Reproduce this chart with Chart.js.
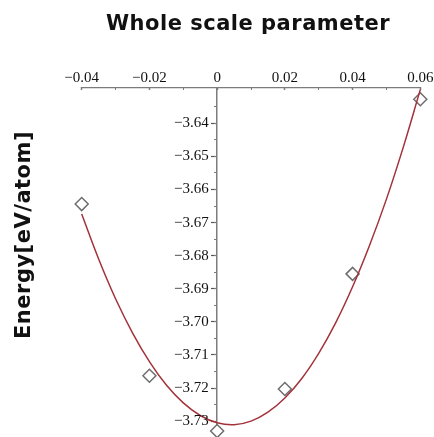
<!DOCTYPE html>
<html>
<head>
<meta charset="utf-8">
<script src="https://cdn.jsdelivr.net/npm/chart.js@4.4.1/dist/chart.umd.min.js"></script>
<style>
  html, body { margin: 0; padding: 0; background: #fff; }
  #wrap { width: 434px; height: 437px; }
</style>
</head>
<body>
<div id="wrap"><canvas id="energy" width="434" height="437"></canvas></div>
<script>
// calculated points: whole scale parameter vs energy per atom
const scaleSteps = [-0.04, -0.02, 0, 0.02, 0.04, 0.06];
const energies = [-3.6644, -3.7163, -3.7330, -3.7203, -3.6855, -3.6327];

// fitted curve through the points
const fitSteps = [-0.04, -0.035, -0.03, -0.025, -0.02, -0.015, -0.01, -0.005, 0, 0.005,
                  0.01, 0.015, 0.02, 0.025, 0.03, 0.035, 0.04, 0.045, 0.05, 0.055, 0.06];
const fitEnergies = [-3.6674, -3.6810, -3.6930, -3.7033, -3.7120, -3.7191, -3.7245, -3.7283, -3.7305, -3.7311,
                     -3.7300, -3.7273, -3.7230, -3.7171, -3.7095, -3.7003, -3.6894, -3.6769, -3.6629, -3.6471, -3.6298];

const xTitle = 'Whole scale parameter';
const yTitle = 'Energy[eV/atom]';

const xMin = -0.04, xMax = 0.06;
const yMin = -3.7348, yMax = -3.6291;

const axisGray = '#7c7c7c';
const tickFont = { family: "'Liberation Serif', 'Times New Roman', serif", size: 15 };

function signed(v, digits) {
    const s = Math.abs(v).toFixed(digits);
    return v < -1e-9 ? '\u2212' + s : s;
}

function onStep(v, step) {
    const k = v / step;
    return Math.abs(k - Math.round(k)) < 1e-6;
}

// titles, plus the energy labels left of the axis that sits at x = 0
const labelPlugin = {
    id: 'labels',
    afterDraw(chart) {
        const ctx = chart.ctx;
        const ys = chart.scales.y;
        const axisX = chart.scales.x.getPixelForValue(0);
        ctx.save();
        ctx.fillStyle = '#111';
        ctx.font = tickFont.size + 'px ' + tickFont.family;
        ctx.textAlign = 'right';
        ctx.textBaseline = 'middle';
        ys.ticks.forEach(t => {
            if (t.value > -3.632) return;
            ctx.fillText(signed(t.value, 2), axisX - 8.5, ys.getPixelForValue(t.value));
        });

        ctx.font = 'bold 21px "DejaVu Sans"';
        ctx.letterSpacing = '0.5px';
        ctx.textAlign = 'center';
        ctx.textBaseline = 'alphabetic';
        ctx.fillText(xTitle, 248, 29.5);
        ctx.translate(29.5, 235);
        ctx.rotate(-Math.PI / 2);
        ctx.fillText(yTitle, 0, 0);
        ctx.restore();
    }
};

new Chart(document.getElementById('energy'), {
    type: 'scatter',
    data: {
        datasets: [{
            label: 'fit',
            data: fitSteps.map((x, i) => ({ x: x, y: fitEnergies[i] })),
            showLine: true,
            borderColor: '#a3323a',
            borderWidth: 1.5,
            pointRadius: 0,
            tension: 0.4,
            order: 0,
            clip: false
        }, {
            label: 'calc',
            data: scaleSteps.map((x, i) => ({ x: x, y: energies[i] })),
            pointStyle: 'rectRot',
            pointRadius: 6.5,
            borderColor: '#6e6e6e',
            backgroundColor: '#fff',
            borderWidth: 1.5,
            order: 1,
            clip: false
        }]
    },
    options: {
        responsive: false,
        animation: false,
        layout: { autoPadding: false, padding: { left: 81.7, right: 13.7, top: 0, bottom: 0 } },
        plugins: {
            legend: { display: false },
            tooltip: { enabled: false }
        },
        scales: {
            x: {
                type: 'linear',
                position: 'top',
                min: xMin,
                max: xMax,
                ticks: {
                    stepSize: 0.01,
                    autoSkip: false,
                    maxRotation: 0,
                    padding: 0.5,
                    font: tickFont,
                    color: '#111',
                    callback: (v) => {
                        if (!onStep(v, 0.02)) return '';
                        return Math.abs(v) < 1e-9 ? '0' : signed(v, 2);
                    }
                },
                grid: { drawOnChartArea: false, drawTicks: false },
                border: { color: axisGray, width: 1.2 },
                afterFit: (s) => { s.height = 87.3; s.paddingLeft = 0; s.paddingRight = 0; }
            },
            // small tick marks hanging under the top axis
            xt: {
                axis: 'x',
                type: 'linear',
                position: { y: yMax },
                min: xMin,
                max: xMax,
                ticks: { stepSize: 0.01, display: false },
                grid: {
                    drawOnChartArea: false,
                    tickLength: 3,
                    color: axisGray,
                    tickWidth: (c) => (c.tick && onStep(c.tick.value, 0.02) ? 1.5 : 1)
                },
                border: { display: false }
            },
            y: {
                type: 'linear',
                position: { x: 0 },
                min: yMin,
                max: yMax,
                ticks: { stepSize: 0.01, includeBounds: false, display: false },
                grid: {
                    drawOnChartArea: false,
                    tickLength: 5,
                    tickWidth: 1.2,
                    color: (c) => (c.tick && c.tick.value > -3.632 ? 'rgba(0,0,0,0)' : '#555')
                },
                border: { color: axisGray, width: 1.5 }
            },
            yt: {
                axis: 'y',
                type: 'linear',
                position: { x: 0 },
                min: yMin,
                max: yMax,
                ticks: { stepSize: 0.005, includeBounds: false, display: false },
                grid: {
                    drawOnChartArea: false,
                    tickLength: 3,
                    color: (c) => (c.tick && c.tick.value > -3.632 ? 'rgba(0,0,0,0)' : axisGray)
                },
                border: { display: false }
            }
        }
    },
    plugins: [labelPlugin]
});
</script>
</body>
</html>
